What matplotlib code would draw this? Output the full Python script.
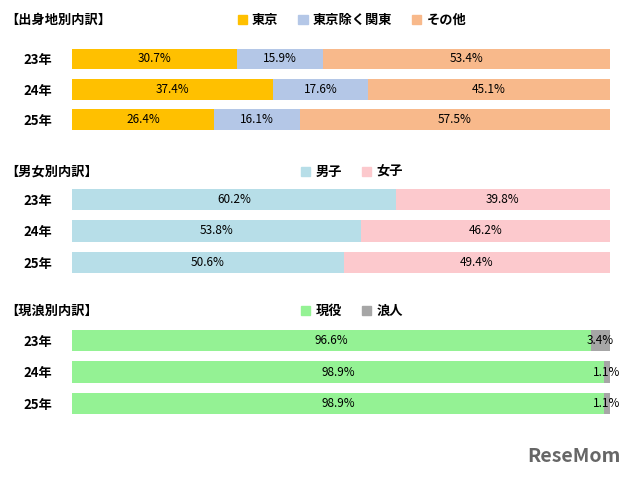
import matplotlib.pyplot as plt
from matplotlib.patches import Patch

plt.rcParams['font.family'] = 'Noto Sans CJK JP'

years = ['23年', '24年', '25年']

titles = ['【出身地別内訳】', '【男女別内訳】', '【現浪別内訳】']
series_names = [['東京', '東京除く関東', 'その他'], ['男子', '女子'], ['現役', '浪人']]
values = [
    [[30.7, 37.4, 26.4], [15.9, 17.6, 16.1], [53.4, 45.1, 57.5]],
    [[60.2, 53.8, 50.6], [39.8, 46.2, 49.4]],
    [[96.6, 98.9, 98.9], [3.4, 1.1, 1.1]],
]
colors = [['#FFC000', '#B4C7E7', '#F8B98B'], ['#B7DEE8', '#FCC9CD'], ['#94F294', '#A6A6A6']]

fig = plt.figure(figsize=(6.4, 4.8), dpi=100)
panels = [(0.719, 0.19), (0.421, 0.196), (0.127, 0.196)]
title_y = [0.958, 0.642, 0.352]

for k, (bottom, h) in enumerate(panels):
    ax = fig.add_axes([0.1125, bottom, 0.84, h])
    left = [0.0] * 3
    for s, name in enumerate(series_names[k]):
        vals = values[k][s]
        ax.barh(range(3), vals, left=left, height=0.68, color=colors[k][s], label=name)
        for i, v in enumerate(vals):
            ax.text(left[i] + v / 2, i, f'{v}%', ha='center', va='center', fontsize=8.5)
        left = [a + b for a, b in zip(left, vals)]
    ax.set_xlim(0, 100)
    ax.set_ylim(2.5, -0.5)
    ax.set_yticks(range(3))
    ax.set_yticklabels(years, fontsize=9.5, fontweight='bold')
    ax.set_xticks([])
    ax.tick_params(axis='y', length=0, pad=14)
    for sp in ax.spines.values():
        sp.set_visible(False)
    fig.text(0.008, title_y[k], titles[k], fontsize=9.5, va='center', fontweight='bold')
    handles = [Patch(color=c) for c in colors[k]]
    fig.legend(handles, series_names[k], loc='center', bbox_to_anchor=(0.55, title_y[k]),
               ncol=len(handles), frameon=False, fontsize=9.5, handlelength=0.7,
               handleheight=0.7, handletextpad=0.4, columnspacing=1.5,
               prop={'weight': 'bold', 'size': 9.5})

fig.text(0.97, 0.03, 'ReseMom', ha='right', va='bottom', fontsize=14,
         color='#666666', fontweight='bold')
fig.savefig('out.png')
